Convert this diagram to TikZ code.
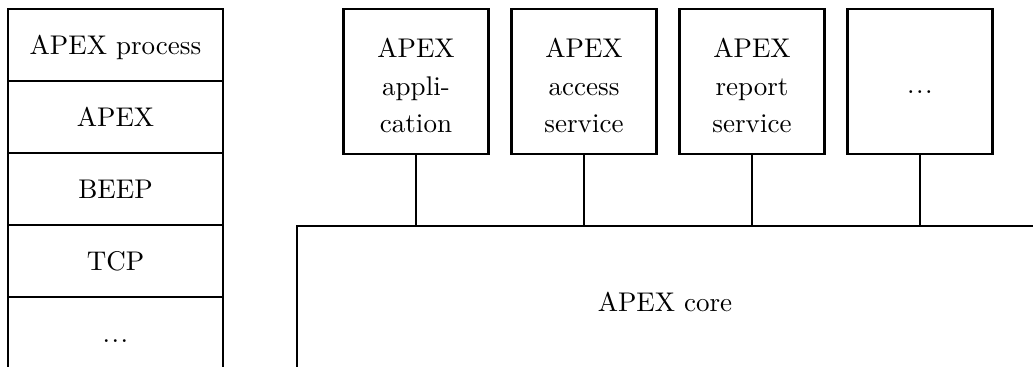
\documentclass[tikz,border=0pt]{standalone}
\newcommand{\spreaddots}{.\kern0.55pt.\kern0.55pt.}
\begin{document}
\begin{tikzpicture}[x=0.37pt,y=-0.37pt,line width=0.75pt,
  layer/.style={draw,inner sep=0pt,minimum width=79.55pt,minimum height=26.64pt,
    text height=6.83pt,text depth=0pt},
  openlayer/.style={layer,draw=none,outer sep=0pt},
  module/.style={draw,inner sep=0pt,minimum width=53.65pt,minimum height=53.65pt},
  modtext/.style={inner sep=0pt,align=center,font=\fontsize{10}{14}\selectfont},
  link/.style={draw}]
\clip (0,0) rectangle (1033,367);

% protocol stack on the left
\node[layer] (r1) at (115.5,45) {APEX process};
\node[layer] (r2) at (115.5,117) {APEX};
\node[layer] (r3) at (115.5,189) {BEEP};
\node[layer] (r4) at (115.5,261) {TCP};
\node[openlayer] (r5) at (115.5,333) {\spreaddots};
\draw (r5.south west) -- (r5.north west) -- (r5.north east) -- (r5.south east);

% modules sitting on the core
\node[module] (m1) at (416,81.5) {};
\node[module] (m2) at (584,81.5) {};
\node[module] (m3) at (752,81.5) {};
\node[module] (m4) at (920,81.5) {};
\node[modtext] (t1) at (416,85.6) {APEX\\appli-\\cation};
\node[modtext] (t2) at (584,85.6) {APEX\\access\\service};
\node[modtext] (t3) at (752,85.6) {APEX\\report\\service};
\node[modtext] (t4) at (920,91.8) {\spreaddots};

% core block, open to the right and bottom
\coordinate (coreTL) at (297,226);
\coordinate (coreBL) at (297,380);
\coordinate (coreTR) at (1040,226);
\draw (coreBL) -- (coreTL) -- (coreTR);
\node (core) at (665,302) {APEX core};

% connections down to the core
\foreach \m in {m1,m2,m3,m4}
  \path[link] (\m.south) -- (\m.south |- coreTL);
\end{tikzpicture}
\end{document}
